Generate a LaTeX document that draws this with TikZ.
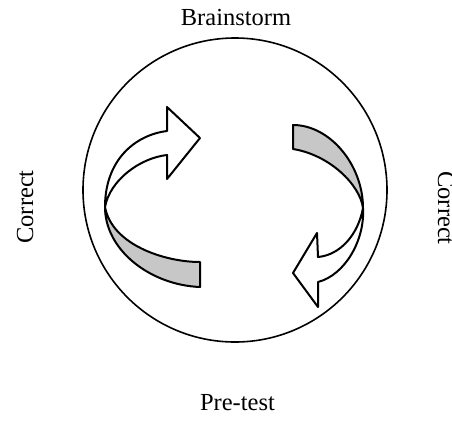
\documentclass[tikz,border=0pt]{standalone}
\usepackage{fontspec}
\setmainfont{Liberation Serif}
\begin{document}
\begin{tikzpicture}[x=1pt,y=-1pt,
  label/.style={font=\fontsize{24.5}{28}\selectfont, inner sep=0pt, anchor=base},
  ring/.style={draw, line width=1.6pt},
  ribbon/.style={draw, line width=2pt, line join=round},
  underside/.style={ribbon, fill=black!22},
  topside/.style={ribbon, fill=white}]
\useasboundingbox (0,0) rectangle (452,421);
\clip (0,0) rectangle (452,421);

% cycle ring
\node[ring, circle, minimum size=304pt, inner sep=0pt] (ring) at (235,190) {};

% stage labels
\node[label] (brainstorm) at (236,25) {Brainstorm};
\node[label] (pretest) at (237.5,410) {Pre-test};
\node[label, rotate=90] (correctL) at (33,207) {Correct};
\node[label, rotate=-90] (correctR) at (438,208) {Correct};

% left twisted arrow: shaded underside, then the white upper band with its head
\path[underside] (105,207) .. controls (105,250) and (150,285) .. (200,287)
  -- (200,262) .. controls (165,262) and (112,245) .. (105,207) -- cycle;
\path[topside] (105,207) .. controls (105,160) and (135,135) .. (167,131)
  -- (167,107) -- (200,138) -- (167,179) -- (167,155)
  .. controls (140,158) and (110,180) .. (105,207) -- cycle;

% right twisted arrow
\path[underside] (293,125) .. controls (330,125) and (363,165) .. (363,208)
  .. controls (360,185) and (330,155) .. (293,149) -- cycle;
\path[topside] (363,208) .. controls (365,240) and (345,275) .. (318,282)
  -- (318,307) -- (293,273) -- (317,233) -- (318,257)
  .. controls (340,255) and (358,235) .. (363,208) -- cycle;
\end{tikzpicture}
\end{document}
